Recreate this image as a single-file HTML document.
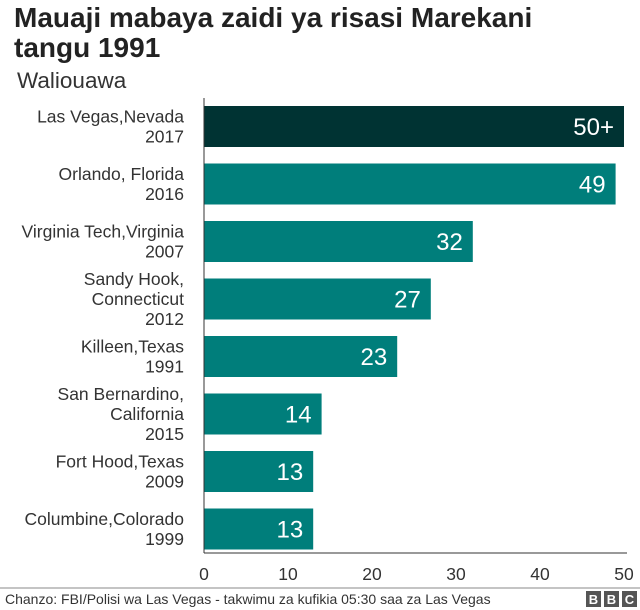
<!DOCTYPE html>
<html><head><meta charset="utf-8"><style>
body{margin:0;background:#fff;font-family:"Liberation Sans",Arial,sans-serif}
svg{display:block}
</style></head><body>
<svg id="c" width="640" height="610">
<text x="14" y="27" font-size="28" font-weight="bold" fill="#222">Mauaji mabaya zaidi ya risasi Marekani</text>
<text x="14" y="57" font-size="28" font-weight="bold" fill="#222">tangu 1991</text>
<text x="17" y="88" font-size="22.5" fill="#333">Waliouawa</text>
<g id="bars"></g>
<g id="axis"></g>
<line x1="0" y1="588" x2="640" y2="588" stroke="#888" stroke-width="1"/>
<text x="5" y="604" font-size="14" fill="#333">Chanzo: FBI/Polisi wa Las Vegas  - takwimu za kufikia 05:30 saa za Las Vegas</text>
<g>
<rect x="586" y="591" width="15" height="16" fill="#555"/><rect x="604" y="591" width="15" height="16" fill="#555"/><rect x="622" y="591" width="15" height="16" fill="#555"/>
<text x="593.5" y="604" font-size="13" font-weight="bold" fill="#fff" text-anchor="middle">B</text>
<text x="611.5" y="604" font-size="13" font-weight="bold" fill="#fff" text-anchor="middle">B</text>
<text x="629.5" y="604" font-size="13" font-weight="bold" fill="#fff" text-anchor="middle">C</text>
</g>
</svg>
<script>
const categories=[["Las Vegas,Nevada","2017"],["Orlando, Florida","2016"],["Virginia Tech,Virginia","2007"],["Sandy Hook,","Connecticut","2012"],["Killeen,Texas","1991"],["San Bernardino,","California","2015"],["Fort Hood,Texas","2009"],["Columbine,Colorado","1999"]];
const values=[50,49,32,27,23,14,13,13];
const valueLabels=["50+","49","32","27","23","14","13","13"];
const ticks=[0,10,20,30,40,50];
(function(){
const NS="http://www.w3.org/2000/svg";
const x0=204,x1=624,axTop=98,axBottom=553,bandTop=106,pitch=57.5,bh=41;
const xs=v=>x0+v/50*(x1-x0);
const ys=i=>bandTop+i*pitch;
function mk(t,a){const e=document.createElementNS(NS,t);for(const k in a)e.setAttribute(k,a[k]);return e;}
const bars=document.getElementById('bars'),axis=document.getElementById('axis');
values.forEach((v,i)=>{
 const r=mk('rect',{x:x0,y:ys(i),width:xs(v)-x0,height:bh,fill:i==0?'#003333':'#007e7b'});
 
 
 bars.appendChild(r);
 const t=mk('text',{x:xs(v)-10,y:ys(i)+bh/2+8.5,'font-size':24,fill:'#fff','text-anchor':'end'});
 t.textContent=valueLabels[i];
 
 
 bars.appendChild(t);
 const lines=categories[i],lh=20,cy=ys(i)+bh/2;
 lines.forEach((s,j)=>{
  const l=mk('text',{x:184,y:cy-(lines.length-1)*lh/2+j*lh+6,'font-size':17.5,fill:'#333','text-anchor':'end'});
  l.textContent=s;
  
  
  bars.appendChild(l);
 });
});
const yl=mk('line',{x1:x0,y1:axTop,x2:x0,y2:axBottom,stroke:'#333'});


axis.appendChild(yl);
const xl=mk('line',{x1:x0,y1:axBottom,x2:x1+3,y2:axBottom,stroke:'#333'});


axis.appendChild(xl);
ticks.forEach(v=>{
 const t=mk('text',{x:xs(v),y:580,'font-size':17.5,fill:'#333','text-anchor':'middle'});
 t.textContent=v;
 
 
 axis.appendChild(t);
});
})();
</script>
</body></html>
